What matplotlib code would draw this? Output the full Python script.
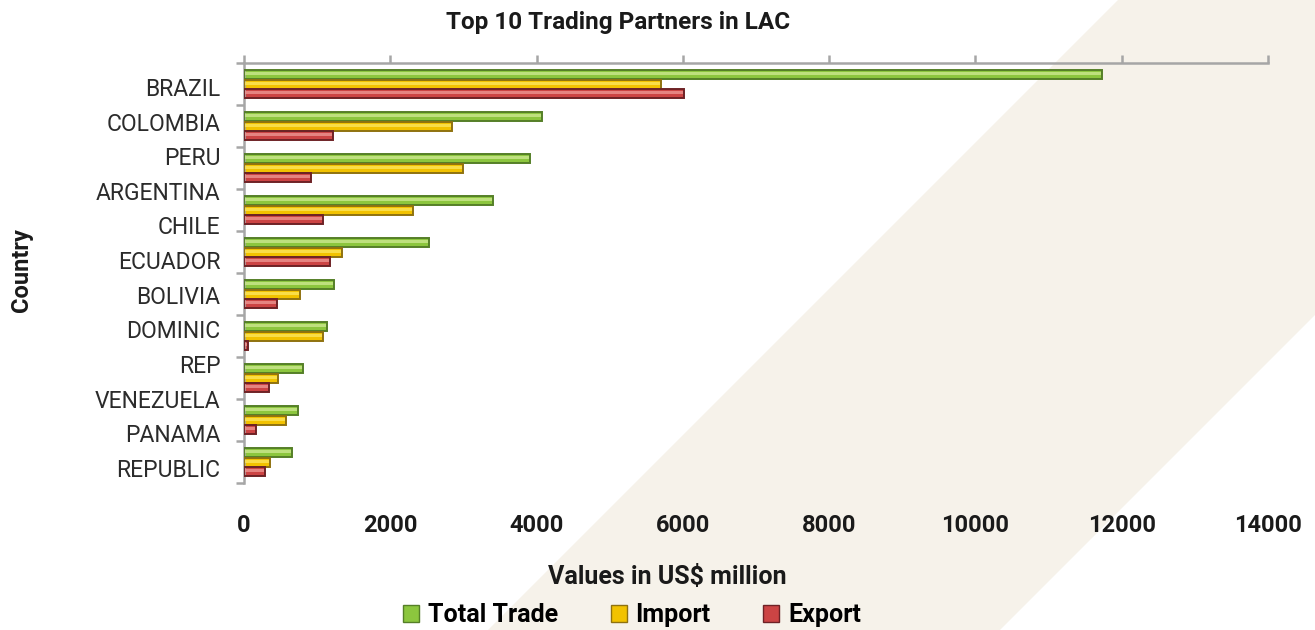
#!/usr/bin/env python3
"""Top 10 trading partners in LAC: grouped horizontal bars."""

import matplotlib

matplotlib.use("Agg")
import matplotlib.pyplot as plt
import numpy as np
from matplotlib.patches import Patch, Polygon

# values in US$ million, one entry per bar group (top to bottom)
total_trade = [11730, 4070, 3910, 3400, 2530, 1230, 1140, 810, 740, 650]
imports = [5700, 2850, 2990, 2310, 1340, 770, 1080, 460, 570, 360]
exports = [6010, 1210, 910, 1080, 1180, 455, 50, 340, 165, 285]

# category labels as printed on the chart (12 lines for 10 groups)
country_labels = [
    "BRAZIL", "COLOMBIA", "PERU", "ARGENTINA", "CHILE", "ECUADOR",
    "BOLIVIA", "DOMINIC", "REP", "VENEZUELA", "PANAMA", "REPUBLIC",
]
x_ticks = [0, 2000, 4000, 6000, 8000, 10000, 12000, 14000]

series = [
    ("Total Trade", total_trade, "#8cc63e", "#cbe78f", "#557f28"),
    ("Import", imports, "#f2c200", "#fbe55c", "#8f7210"),
    ("Export", exports, "#cc4444", "#ec9591", "#6e2226"),
]

FONT = "Roboto"
plt.rcParams["font.family"] = [FONT, "DejaVu Sans"]

fig = plt.figure(figsize=(13.15, 6.3), dpi=100)
fig.patch.set_facecolor("white")

# beige diagonal band in the background
W, H = 1315.0, 630.0
band_px = [(1118, 0), (1315, 0), (1315, 315), (1000, 630), (488, 630)]
band = Polygon([(x / W, 1 - y / H) for x, y in band_px], closed=True,
               transform=fig.transFigure, facecolor="#f6f2ea", edgecolor="none",
               zorder=-10)
fig.patches.append(band)

ax = fig.add_axes([244 / W, 1 - 483 / H, (1268 - 244) / W, (483 - 63) / H])
ax.set_facecolor("none")

n = len(total_trade)
centers = np.arange(n) + 0.51
bar_h = 0.215
step = 0.226

for k, (name, vals, body, light, edge) in enumerate(series):
    y = centers + (k - 1) * step
    ax.barh(y, vals, height=bar_h, color=body, edgecolor="none", zorder=2, label=name)
    ax.barh(y - bar_h * 0.12, vals, height=bar_h * 0.3, color=light,
            edgecolor="none", alpha=0.8, zorder=3)
    ax.barh(y, vals, height=bar_h, facecolor="none", edgecolor=edge,
            linewidth=1.4, zorder=4)

ax.set_xlim(0, 14000)
ax.set_ylim(n, 0)

spine_col = "#a6a6a6"
for side in ("bottom", "right"):
    ax.spines[side].set_visible(False)
for side in ("top", "left"):
    ax.spines[side].set_color(spine_col)
    ax.spines[side].set_linewidth(1.8)

ax.set_xticks(x_ticks)
ax.set_xticklabels([str(v) for v in x_ticks])
ax.tick_params(axis="x", top=True, bottom=False, labeltop=False, labelbottom=True,
               length=6, width=1.8, color=spine_col, pad=16,
               labelsize=17, labelcolor="#1a1a1a")
for lbl in ax.get_xticklabels():
    lbl.set_fontweight("bold")

# boundary ticks on the category axis, labels on minor positions
ax.set_yticks(np.arange(n + 1))
ax.set_yticklabels([])
ax.set_yticks(np.linspace(0.57, 9.64, len(country_labels)), minor=True)
ax.set_yticklabels(country_labels, minor=True)
ax.tick_params(axis="y", which="major", length=6, width=1.8, color=spine_col)
ax.tick_params(axis="y", which="minor", length=0, pad=17, labelsize=16.5,
               labelcolor="#2b2b2b")

fig.text(618 / W, 1 - 22 / H, "Top 10 Trading Partners in LAC", ha="center",
         va="center", fontsize=17.5, fontweight="bold", color="#1a1a1a")
fig.text(667 / W, 1 - 577 / H, "Values in US$ million", ha="center", va="center",
         fontsize=18, fontweight="bold", color="#1a1a1a")
fig.text(22 / W, 1 - 270 / H, "Country", ha="center", va="center", rotation=90,
         fontsize=17, fontweight="bold", color="#1a1a1a")

handles = [Patch(facecolor=body, edgecolor=edge, linewidth=1.0, label=name)
           for name, _, body, _, edge in series]
fig.legend(handles=handles, loc="center", bbox_to_anchor=(632 / W, 1 - 615 / H),
           ncol=3, frameon=False, handlelength=0.65, handleheight=0.65,
           handletextpad=0.35, columnspacing=2.1,
           prop={"family": FONT, "weight": "bold", "size": 18})

fig.savefig("out.png", dpi=100)
